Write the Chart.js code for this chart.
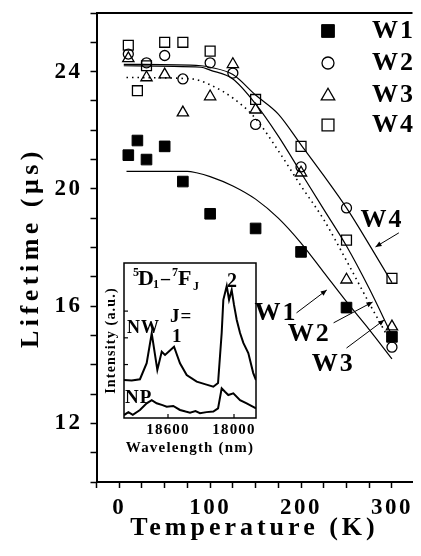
<!DOCTYPE html>
<html><head><meta charset="utf-8">
<script src="https://cdn.jsdelivr.net/npm/chart.js@4.4.1/dist/chart.umd.min.js"></script>
<style>
html,body{margin:0;padding:0;background:#fff;}
#wrap{position:relative;width:421px;height:556px;overflow:hidden;}
#main{position:absolute;left:0;top:0;}
#inset{position:absolute;left:100px;top:255px;}
</style>
</head><body>
<div id="wrap"><canvas id="main" width="421" height="556"></canvas><canvas id="inset" width="165" height="205"></canvas></div>
<script>
// ---------- data (main plot) ----------
const w1Temp = [10, 20, 30, 50, 70, 100, 150, 200, 250, 300];
const w1Life = [21.15, 21.65, 21.0, 21.45, 20.25, 19.15, 18.65, 17.85, 15.95, 14.95];
const w2Temp = [10, 30, 50, 70, 100, 125, 150, 200, 250, 300];
const w2Life = [24.6, 24.3, 24.55, 23.75, 24.3, 23.95, 22.2, 20.75, 19.35, 14.6];
const w3Temp = [10, 30, 50, 70, 100, 125, 150, 200, 250, 300];
const w3Life = [24.45, 23.8, 23.9, 22.6, 23.15, 24.25, 22.7, 20.55, 16.9, 15.3];
const w4Temp = [10, 20, 30, 50, 70, 100, 150, 200, 250, 300];
const w4Life = [24.9, 23.35, 24.2, 25.0, 25.0, 24.7, 23.05, 21.45, 18.25, 16.95];
// fitted curves
const fit1Temp = [8, 75, 85, 100, 125, 150, 175, 200, 225, 250, 275, 300];
const fit1Life = [20.6, 20.6, 20.55, 20.42, 20.1, 19.65, 19.0, 18.15, 17.15, 16.15, 15.2, 14.2];
const fit2Temp = [8, 80, 100, 125, 150, 175, 200, 225, 250, 275, 300];
const fit2Life = [23.8, 23.75, 23.55, 23.1, 22.4, 21.3, 20.1, 18.95, 17.55, 16.1, 14.7];
const fit3Temp = [5, 90, 100, 125, 150, 175, 200, 225, 250, 275, 300];
const fit3Life = [24.2, 24.15, 24.05, 23.75, 22.9, 21.8, 20.55, 19.3, 18.05, 16.6, 15.0];
const fit4Temp = [5, 90, 100, 125, 150, 175, 200, 225, 250, 275, 300];
const fit4Life = [24.25, 24.2, 24.15, 23.9, 23.2, 22.55, 21.5, 20.45, 19.35, 18.1, 16.8];
const seriesNames = ['W1', 'W2', 'W3', 'W4'];
// ticks
const xTicks = [-25, 0, 25, 50, 75, 100, 125, 150, 175, 200, 225, 250, 275, 300];
const xTickLabels = [0, 100, 200, 300];
const yTicks = [10, 11, 12, 13, 14, 15, 16, 17, 18, 19, 20, 21, 22, 23, 24, 25, 26];
const yTickLabels = [12, 16, 20, 24];

// ---------- data (inset spectra) ----------
const nwWave = [19000, 18930, 18855, 18794, 18748, 18697, 18657, 18627, 18545, 18491, 18430, 18339, 18250, 18188, 18145, 18112, 18097, 18066, 18045, 18021, 18000, 17975, 17945, 17915, 17870, 17825, 17800];
const nwInt  = [1.42, 1.40, 1.45, 2.05, 3.17, 1.80, 2.48, 2.36, 2.67, 2.05, 1.61, 1.36, 1.25, 1.17, 1.31, 3.18, 4.42, 4.94, 4.42, 4.79, 4.23, 3.67, 3.18, 2.81, 2.43, 1.68, 1.42];
const npWave = [19000, 18960, 18920, 18855, 18794, 18748, 18703, 18650, 18612, 18552, 18491, 18440, 18400, 18350, 18309, 18250, 18188, 18145, 18112, 18082, 18052, 18006, 17945, 17885, 17825, 17800];
const npInt  = [0.11, 0.22, 0.12, 0.30, 0.55, 0.67, 0.55, 0.48, 0.42, 0.45, 0.30, 0.24, 0.20, 0.26, 0.18, 0.22, 0.24, 0.36, 1.11, 0.98, 0.86, 0.92, 0.67, 0.55, 0.42, 0.36];
const insetXTicks = [18600, 18000];
const insetYTicks = [2, 3, 4];

// ---------- helpers ----------
const SERIF = '"Liberation Serif", "Times New Roman", serif';
const pts = (xs, ys) => xs.map((x, i) => ({x: x, y: ys[i]}));
const font = (size) => ({family: SERIF, weight: 'bold', size: size});

const spacing = (px) => ({
  id: 'spacing' + px,
  beforeUpdate(c) { c.ctx.letterSpacing = px + 'px'; },
  beforeDraw(c) { c.ctx.letterSpacing = px + 'px'; }
});
// wider letter spacing for axis titles only
const titleSpacing = (px, base) => s => {
  if (!s._wrappedTitle) {
    const orig = s.drawTitle;
    s.drawTitle = function () { this.ctx.letterSpacing = px + 'px'; orig.apply(this, arguments); this.ctx.letterSpacing = base + 'px'; };
    s._wrappedTitle = true;
  }
};

function arrow(ctx, x1, y1, x2, y2) {
  ctx.beginPath(); ctx.moveTo(x1, y1); ctx.lineTo(x2, y2); ctx.stroke();
  const a = Math.atan2(y2 - y1, x2 - x1), L = 6, W = 2.6;
  ctx.beginPath();
  ctx.moveTo(x2, y2);
  ctx.lineTo(x2 - L * Math.cos(a) + W * Math.sin(a), y2 - L * Math.sin(a) - W * Math.cos(a));
  ctx.lineTo(x2 - L * Math.cos(a) - W * Math.sin(a), y2 - L * Math.sin(a) + W * Math.cos(a));
  ctx.closePath(); ctx.fill();
}

// annotation placement (data coordinates)
const notes = [
  {ds: 3, text: [289, 18.94], from: [307.6, 18.5], to: [281.9, 18.02]},
  {ds: 0, text: [172.5, 15.77], from: [195, 15.77], to: [228.3, 16.55]},
  {ds: 1, text: [209, 15.05], from: [235.8, 15.43], to: [278.7, 16.14]},
  {ds: 2, text: [235.5, 14.03], from: [250, 14.57], to: [291.5, 15.53]}
];

const decor = {
  id: 'decor',
  afterDraw(chart) {
    const {ctx, chartArea: a, scales} = chart;
    const X = v => scales.x.getPixelForValue(v), Y = v => scales.y.getPixelForValue(v);
    ctx.save();
    ctx.strokeStyle = '#000'; ctx.fillStyle = '#000';
    ctx.lineWidth = 2;
    ctx.beginPath(); ctx.moveTo(a.left, a.top); ctx.lineTo(a.right, a.top); ctx.stroke();
    // legend
    const ly = [31, 63, 95, 125];
    for (let i = 0; i < 4; i++) {
      const ds = chart.data.datasets[i];
      ctx.fillStyle = ds.backgroundColor; ctx.strokeStyle = ds.borderColor; ctx.lineWidth = ds.borderWidth;
      Chart.helpers.drawPoint(ctx, {pointStyle: ds.pointStyle, radius: ds.pointRadius * 1.2, rotation: 0, borderWidth: ds.borderWidth}, 328, ly[i] + (ds.pointStyle === 'triangle' ? 1 : 0));
      ctx.fillStyle = '#000';
      ctx.letterSpacing = '2px';
      ctx.font = 'bold 26px ' + SERIF; ctx.textBaseline = 'middle'; ctx.textAlign = 'left';
      ctx.fillText(ds.label, 372, ly[i]);
    }
    // annotations
    ctx.lineWidth = 1; ctx.strokeStyle = '#000'; ctx.fillStyle = '#000';
    notes.forEach(n => {
      ctx.font = 'bold 26px ' + SERIF; ctx.textAlign = 'center'; ctx.textBaseline = 'middle';
      ctx.letterSpacing = '2px';
      ctx.fillText(seriesNames[n.ds], X(n.text[0]), Y(n.text[1]));
      arrow(ctx, X(n.from[0]), Y(n.from[1]), X(n.to[0]), Y(n.to[1]));
    });
    ctx.restore();
  }
};

const mainCfg = {
  type: 'scatter',
  data: {
    datasets: [
      {label: seriesNames[0], data: pts(w1Temp, w1Life), pointStyle: 'rect', pointRadius: 7.5, backgroundColor: '#000', borderColor: '#000', borderWidth: 1, showLine: false},
      {label: seriesNames[1], data: pts(w2Temp, w2Life), pointStyle: 'circle', pointRadius: 5, backgroundColor: 'rgba(0,0,0,0)', borderColor: '#000', borderWidth: 1.3, showLine: false},
      {label: seriesNames[2], data: pts(w3Temp, w3Life), pointStyle: 'triangle', pointRadius: 6.5, backgroundColor: 'rgba(0,0,0,0)', borderColor: '#000', borderWidth: 1.3, showLine: false},
      {label: seriesNames[3], data: pts(w4Temp, w4Life), pointStyle: 'rect', pointRadius: 7, backgroundColor: 'rgba(0,0,0,0)', borderColor: '#000', borderWidth: 1.3, showLine: false},
      {label: 'fit W1', data: pts(fit1Temp, fit1Life), showLine: true, pointRadius: 0, borderColor: '#000', borderWidth: 1.2, cubicInterpolationMode: 'monotone'},
      {label: 'fit W2', data: pts(fit2Temp, fit2Life), showLine: true, pointRadius: 0, borderColor: '#000', borderWidth: 1.6, borderDash: [1.5, 4], cubicInterpolationMode: 'monotone'},
      {label: 'fit W3', data: pts(fit3Temp, fit3Life), showLine: true, pointRadius: 0, borderColor: '#000', borderWidth: 1.2, cubicInterpolationMode: 'monotone'},
      {label: 'fit W4', data: pts(fit4Temp, fit4Life), showLine: true, pointRadius: 0, borderColor: '#000', borderWidth: 1.2, cubicInterpolationMode: 'monotone'}
    ]
  },
  options: {
    responsive: false, animation: false,
    layout: {padding: {top: 13, right: 0, left: 0, bottom: 0}},
    plugins: {legend: {display: false}, tooltip: {enabled: false}},
    scales: {
      x: {
        type: 'linear', min: -25, max: 322.6,
        afterBuildTicks: s => { s.ticks = xTicks.map(v => ({value: v})); },
        afterFit: s => { s.height = 74; s.paddingLeft = 0; s.paddingRight = 0; titleSpacing(4, 2.5)(s); },
        ticks: {autoSkip: false, maxRotation: 0, color: '#000', font: font(23), padding: 6,
                callback: v => xTickLabels.includes(v) ? String(v) : ''},
        grid: {drawOnChartArea: false, drawTicks: true, tickLength: 6, tickWidth: 1.5, tickColor: '#000'},
        border: {display: true, color: '#000', width: 2},
        title: {display: true, text: 'Temperature (K)', color: '#000', font: font(26), padding: {top: 0, bottom: 12}, align: 'center'}
      },
      y: {
        type: 'linear', min: 10, max: 26,
        afterBuildTicks: s => { s.ticks = yTicks.map(v => ({value: v})); },
        afterFit: s => { s.width = 96.5; s.paddingTop = 0; s.paddingBottom = 0; titleSpacing(4.5, 2.5)(s); },
        ticks: {autoSkip: false, color: '#000', font: font(23), padding: 8,
                callback: v => yTickLabels.includes(v) ? String(v) : ''},
        grid: {drawOnChartArea: false, drawTicks: true, tickLength: 6, tickWidth: 1.5, tickColor: '#000'},
        border: {display: true, color: '#000', width: 2},
        title: {display: true, text: 'Lifetime (\u03BCs)', color: '#000', font: font(26), padding: {top: 16, bottom: 0}}
      }
    }
  },
  plugins: [spacing(2.5), decor]
};
new Chart(document.getElementById('main'), mainCfg);

// ---------- inset ----------
const insetDecor = {
  id: 'insetDecor',
  afterDraw(chart) {
    const {ctx, chartArea: a, scales} = chart;
    ctx.save();
    ctx.strokeStyle = '#000'; ctx.fillStyle = '#000'; ctx.lineWidth = 1.5;
    ctx.strokeRect(a.left, a.top, a.right - a.left, a.bottom - a.top);
    ctx.lineWidth = 1.2;
    insetXTicks.forEach(v => { const x = scales.x.getPixelForValue(v); ctx.beginPath(); ctx.moveTo(x, a.bottom); ctx.lineTo(x, a.bottom - 4); ctx.stroke(); });
    insetYTicks.forEach(v => { const y = scales.y.getPixelForValue(v); ctx.beginPath(); ctx.moveTo(a.left, y); ctx.lineTo(a.left + 4, y); ctx.stroke(); });
    ctx.textAlign = 'left'; ctx.textBaseline = 'alphabetic';
    ctx.letterSpacing = '1px';
    const t = (s, size, x, y) => { ctx.font = 'bold ' + size + 'px ' + SERIF; ctx.fillText(s, x, y); };
    const L = a.left, T = a.top;
    // 5D1 - 7FJ
    t('5', 12, L + 9, T + 13);
    t('D', 22, L + 14, T + 22);
    t('1', 12, L + 29, T + 25);
    t('\u2013', 18, L + 37, T + 21);
    t('7', 12, L + 48, T + 13);
    t('F', 22, L + 54, T + 22);
    t('J', 12, L + 69, T + 27);
    t('2', 20, L + 103, T + 24);
    t('J=', 19, L + 46, T + 59);
    t('1', 19, L + 48, T + 79);
    t('NW', 18, L + 3, T + 70);
    t('NP', 19, L + 1, T + 140);
    ctx.restore();
  }
};

new Chart(document.getElementById('inset'), {
  type: 'scatter',
  data: {
    datasets: [
      {label: 'NW', data: pts(nwWave, nwInt), showLine: true, pointRadius: 0, borderColor: '#000', borderWidth: 2},
      {label: 'NP', data: pts(npWave, npInt), showLine: true, pointRadius: 0, borderColor: '#000', borderWidth: 2}
    ]
  },
  options: {
    responsive: false, animation: false,
    layout: {padding: {top: 8, right: 9, left: 0, bottom: 0}},
    plugins: {legend: {display: false}, tooltip: {enabled: false}},
    scales: {
      x: {
        type: 'linear', min: 17800, max: 19000, reverse: true,
        afterBuildTicks: s => { s.ticks = insetXTicks.map(v => ({value: v})); },
        afterFit: s => { s.height = 42; s.paddingLeft = 0; s.paddingRight = 0; },
        ticks: {autoSkip: false, maxRotation: 0, color: '#000', font: font(15), padding: 3, callback: v => String(v)},
        grid: {display: false, drawTicks: false},
        border: {display: false},
        title: {display: true, text: 'Wavelength (nm)', color: '#000', font: font(15), padding: {top: 0, bottom: 3}}
      },
      y: {
        type: 'linear', min: 0, max: 5.8,
        afterFit: s => { s.width = 24; s.paddingTop = 0; s.paddingBottom = 0; },
        ticks: {display: false},
        grid: {display: false, drawTicks: false},
        border: {display: false},
        title: {display: true, text: 'Intensity (a.u.)', color: '#000', font: font(14), padding: {top: 3, bottom: 0}}
      }
    }
  },
  plugins: [spacing(1.2), insetDecor]
});
</script>
</body></html>
